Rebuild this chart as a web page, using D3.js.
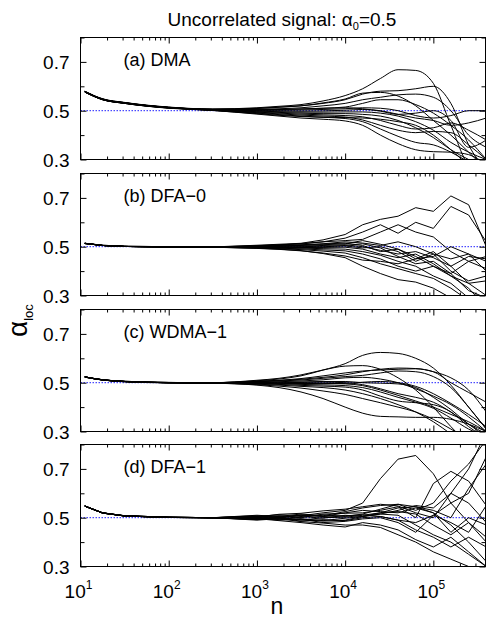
<!DOCTYPE html>
<html>
<head>
  <meta charset="utf-8">
  <title>Local scaling exponent, uncorrelated signal</title>
  <script src="https://d3js.org/d3.v7.min.js"></script>
  <style>
    body {
      margin: 0;
      background-color: white;
    }

    text {
      font-family: 'Liberation Sans', Arial, sans-serif;
      fill: black;
    }

    .frame {
      fill: none;
      stroke: black;
      stroke-width: 1;
    }

    .curve {
      fill: none;
      stroke: black;
      stroke-width: 1;
    }

    .ref-line {
      stroke: #1f1fff;
      stroke-width: 1;
      stroke-dasharray: 1.5, 1.5;
    }

    .tick line {
      stroke: black;
    }
  </style>
</head>

<body>
  <svg id="chart"></svg>

  <script>
    // window sizes n (log spaced)
    const nValues = [11.2, 17.8, 31.6, 100, 316, 1000, 1780, 3160, 5620, 10000, 15800, 25100, 39800, 63100, 100000, 158000, 251000, 398000];

    // (a) DMA
    const dmaCurves = [
      [0.580, 0.549, 0.534, 0.515, 0.507, 0.512, 0.518, 0.525, 0.540, 0.562, 0.590, 0.632, 0.668, 0.665, 0.612, 0.440, 0.280, 0.250],
      [0.578, 0.548, 0.533, 0.514, 0.506, 0.510, 0.515, 0.520, 0.530, 0.545, 0.568, 0.580, 0.582, 0.590, 0.600, 0.530, 0.360, 0.250],
      [0.579, 0.547, 0.533, 0.513, 0.506, 0.509, 0.514, 0.520, 0.532, 0.548, 0.572, 0.575, 0.560, 0.520, 0.460, 0.400, 0.330, 0.260],
      [0.577, 0.547, 0.532, 0.513, 0.505, 0.506, 0.508, 0.512, 0.520, 0.530, 0.545, 0.555, 0.565, 0.568, 0.555, 0.500, 0.400, 0.350],
      [0.578, 0.548, 0.533, 0.514, 0.505, 0.504, 0.505, 0.507, 0.510, 0.515, 0.530, 0.545, 0.545, 0.525, 0.490, 0.440, 0.380, 0.300],
      [0.576, 0.546, 0.531, 0.512, 0.504, 0.502, 0.502, 0.503, 0.505, 0.508, 0.512, 0.510, 0.500, 0.480, 0.470, 0.480, 0.500, 0.500],
      [0.578, 0.547, 0.532, 0.513, 0.504, 0.500, 0.499, 0.498, 0.499, 0.502, 0.505, 0.500, 0.485, 0.470, 0.460, 0.440, 0.450, 0.470],
      [0.577, 0.546, 0.531, 0.512, 0.503, 0.498, 0.496, 0.494, 0.494, 0.495, 0.495, 0.490, 0.478, 0.455, 0.420, 0.370, 0.330, 0.300],
      [0.579, 0.547, 0.532, 0.513, 0.503, 0.496, 0.493, 0.490, 0.488, 0.488, 0.485, 0.478, 0.460, 0.430, 0.390, 0.340, 0.300, 0.270],
      [0.576, 0.545, 0.530, 0.511, 0.503, 0.494, 0.490, 0.486, 0.483, 0.480, 0.475, 0.460, 0.440, 0.425, 0.430, 0.450, 0.420, 0.380],
      [0.578, 0.546, 0.531, 0.512, 0.502, 0.492, 0.487, 0.482, 0.478, 0.474, 0.462, 0.440, 0.420, 0.410, 0.415, 0.410, 0.360, 0.300],
      [0.577, 0.545, 0.530, 0.511, 0.502, 0.490, 0.484, 0.478, 0.473, 0.468, 0.455, 0.425, 0.395, 0.370, 0.360, 0.330, 0.290, 0.250],
      [0.579, 0.546, 0.531, 0.512, 0.501, 0.488, 0.481, 0.476, 0.473, 0.472, 0.470, 0.465, 0.455, 0.440, 0.400, 0.340, 0.280, 0.260],
      [0.576, 0.545, 0.530, 0.510, 0.501, 0.486, 0.478, 0.470, 0.465, 0.458, 0.440, 0.400, 0.365, 0.340, 0.332, 0.330, 0.320, 0.280],
      [0.578, 0.547, 0.532, 0.513, 0.505, 0.503, 0.505, 0.507, 0.510, 0.512, 0.508, 0.498, 0.485, 0.490, 0.500, 0.460, 0.350, 0.380]
    ];

    // (b) DFA-0
    const dfa0Curves = [
      [0.514, 0.506, 0.502, 0.500, 0.499, 0.506, 0.510, 0.514, 0.528, 0.550, 0.590, 0.612, 0.625, 0.660, 0.645, 0.708, 0.672, 0.500],
      [0.513, 0.505, 0.501, 0.500, 0.499, 0.504, 0.508, 0.511, 0.520, 0.535, 0.560, 0.590, 0.555, 0.600, 0.575, 0.665, 0.630, 0.520],
      [0.514, 0.506, 0.502, 0.500, 0.499, 0.503, 0.507, 0.513, 0.520, 0.525, 0.530, 0.560, 0.590, 0.560, 0.540, 0.480, 0.440, 0.410],
      [0.513, 0.505, 0.501, 0.499, 0.498, 0.502, 0.505, 0.508, 0.512, 0.520, 0.515, 0.505, 0.520, 0.500, 0.470, 0.450, 0.470, 0.440],
      [0.514, 0.505, 0.501, 0.499, 0.498, 0.501, 0.503, 0.505, 0.508, 0.512, 0.525, 0.510, 0.490, 0.460, 0.420, 0.380, 0.350, 0.300],
      [0.513, 0.505, 0.501, 0.499, 0.498, 0.500, 0.501, 0.502, 0.505, 0.508, 0.500, 0.485, 0.470, 0.480, 0.455, 0.420, 0.460, 0.450],
      [0.514, 0.505, 0.501, 0.499, 0.498, 0.499, 0.499, 0.500, 0.502, 0.503, 0.495, 0.500, 0.480, 0.440, 0.470, 0.400, 0.360, 0.380],
      [0.513, 0.505, 0.501, 0.499, 0.498, 0.498, 0.497, 0.497, 0.497, 0.498, 0.490, 0.470, 0.455, 0.470, 0.430, 0.380, 0.330, 0.250],
      [0.514, 0.505, 0.501, 0.499, 0.498, 0.497, 0.495, 0.494, 0.492, 0.490, 0.480, 0.465, 0.440, 0.420, 0.380, 0.350, 0.290, 0.270],
      [0.513, 0.505, 0.501, 0.499, 0.498, 0.496, 0.494, 0.491, 0.487, 0.483, 0.470, 0.450, 0.420, 0.400, 0.420, 0.390, 0.440, 0.460],
      [0.514, 0.505, 0.501, 0.499, 0.498, 0.495, 0.492, 0.488, 0.482, 0.474, 0.455, 0.430, 0.410, 0.390, 0.370, 0.330, 0.280, 0.260],
      [0.513, 0.505, 0.501, 0.499, 0.498, 0.494, 0.490, 0.484, 0.472, 0.455, 0.420, 0.390, 0.365, 0.355, 0.330, 0.290, 0.280, 0.300],
      [0.514, 0.505, 0.501, 0.499, 0.498, 0.493, 0.489, 0.483, 0.474, 0.462, 0.445, 0.440, 0.430, 0.450, 0.480, 0.420, 0.350, 0.360],
      [0.513, 0.505, 0.501, 0.499, 0.498, 0.501, 0.503, 0.506, 0.511, 0.515, 0.505, 0.480, 0.490, 0.450, 0.460, 0.500, 0.470, 0.400],
      [0.514, 0.505, 0.501, 0.499, 0.498, 0.498, 0.496, 0.496, 0.499, 0.505, 0.512, 0.495, 0.460, 0.430, 0.440, 0.390, 0.320, 0.290]
    ];

    // (c) WDMA-1
    const wdmaCurves = [
      [0.524, 0.512, 0.506, 0.501, 0.500, 0.508, 0.515, 0.528, 0.552, 0.578, 0.612, 0.624, 0.620, 0.600, 0.560, 0.490, 0.400, 0.310],
      [0.523, 0.512, 0.506, 0.501, 0.500, 0.510, 0.518, 0.532, 0.552, 0.568, 0.570, 0.555, 0.520, 0.470, 0.400, 0.320, 0.250, 0.200],
      [0.524, 0.512, 0.505, 0.501, 0.500, 0.506, 0.510, 0.517, 0.528, 0.540, 0.548, 0.552, 0.555, 0.557, 0.545, 0.500, 0.460, 0.420],
      [0.523, 0.511, 0.505, 0.500, 0.499, 0.504, 0.507, 0.511, 0.518, 0.525, 0.530, 0.540, 0.548, 0.545, 0.525, 0.480, 0.400, 0.310],
      [0.524, 0.512, 0.505, 0.500, 0.499, 0.502, 0.504, 0.507, 0.512, 0.520, 0.522, 0.515, 0.500, 0.475, 0.445, 0.410, 0.360, 0.300],
      [0.523, 0.511, 0.505, 0.500, 0.499, 0.501, 0.502, 0.503, 0.505, 0.505, 0.500, 0.498, 0.495, 0.480, 0.440, 0.390, 0.330, 0.280],
      [0.524, 0.512, 0.505, 0.500, 0.499, 0.500, 0.500, 0.501, 0.502, 0.500, 0.492, 0.475, 0.455, 0.440, 0.420, 0.380, 0.330, 0.290],
      [0.523, 0.511, 0.505, 0.500, 0.499, 0.498, 0.497, 0.497, 0.497, 0.495, 0.488, 0.470, 0.448, 0.425, 0.400, 0.370, 0.340, 0.300],
      [0.524, 0.512, 0.505, 0.500, 0.499, 0.497, 0.495, 0.493, 0.491, 0.488, 0.480, 0.462, 0.440, 0.420, 0.395, 0.355, 0.310, 0.280],
      [0.523, 0.511, 0.505, 0.500, 0.499, 0.496, 0.493, 0.489, 0.486, 0.482, 0.470, 0.445, 0.425, 0.418, 0.410, 0.380, 0.320, 0.270],
      [0.524, 0.512, 0.505, 0.500, 0.498, 0.494, 0.490, 0.485, 0.480, 0.470, 0.455, 0.435, 0.410, 0.380, 0.340, 0.290, 0.240, 0.200],
      [0.523, 0.511, 0.504, 0.500, 0.498, 0.492, 0.486, 0.478, 0.466, 0.452, 0.435, 0.418, 0.400, 0.380, 0.350, 0.310, 0.270, 0.240],
      [0.524, 0.511, 0.504, 0.499, 0.498, 0.490, 0.480, 0.462, 0.435, 0.400, 0.375, 0.362, 0.360, 0.358, 0.358, 0.350, 0.330, 0.300],
      [0.523, 0.511, 0.504, 0.500, 0.498, 0.499, 0.498, 0.497, 0.496, 0.497, 0.502, 0.505, 0.500, 0.485, 0.455, 0.415, 0.370, 0.320],
      [0.524, 0.512, 0.505, 0.501, 0.500, 0.505, 0.509, 0.514, 0.522, 0.532, 0.545, 0.555, 0.560, 0.558, 0.545, 0.520, 0.470, 0.380]
    ];

    // (d) DFA-1
    const dfa1Curves = [
      [0.548, 0.520, 0.508, 0.502, 0.500, 0.505, 0.512, 0.508, 0.520, 0.530, 0.560, 0.660, 0.740, 0.755, 0.680, 0.560, 0.480, 0.400],
      [0.547, 0.519, 0.508, 0.502, 0.500, 0.510, 0.505, 0.515, 0.508, 0.525, 0.540, 0.550, 0.555, 0.530, 0.560, 0.650, 0.720, 0.820],
      [0.548, 0.520, 0.507, 0.502, 0.500, 0.503, 0.514, 0.518, 0.528, 0.535, 0.545, 0.555, 0.548, 0.520, 0.500, 0.600, 0.700, 0.850],
      [0.547, 0.519, 0.507, 0.501, 0.500, 0.497, 0.506, 0.500, 0.515, 0.518, 0.520, 0.530, 0.545, 0.500, 0.640, 0.690, 0.650, 0.550],
      [0.548, 0.520, 0.508, 0.502, 0.500, 0.508, 0.500, 0.510, 0.505, 0.520, 0.530, 0.525, 0.520, 0.540, 0.520, 0.440, 0.500, 0.470],
      [0.547, 0.519, 0.507, 0.501, 0.500, 0.500, 0.494, 0.505, 0.498, 0.510, 0.505, 0.515, 0.530, 0.550, 0.540, 0.600, 0.560, 0.480],
      [0.548, 0.520, 0.508, 0.502, 0.500, 0.494, 0.502, 0.490, 0.500, 0.502, 0.510, 0.520, 0.525, 0.515, 0.470, 0.430, 0.480, 0.420],
      [0.547, 0.519, 0.507, 0.501, 0.500, 0.502, 0.492, 0.496, 0.488, 0.498, 0.505, 0.515, 0.510, 0.470, 0.430, 0.400, 0.350, 0.300],
      [0.548, 0.520, 0.507, 0.502, 0.500, 0.492, 0.498, 0.486, 0.492, 0.488, 0.500, 0.505, 0.490, 0.450, 0.420, 0.380, 0.420, 0.380],
      [0.547, 0.519, 0.507, 0.501, 0.500, 0.498, 0.490, 0.494, 0.480, 0.485, 0.495, 0.500, 0.480, 0.440, 0.510, 0.480, 0.440, 0.550],
      [0.548, 0.519, 0.507, 0.501, 0.500, 0.490, 0.496, 0.484, 0.478, 0.470, 0.470, 0.460, 0.430, 0.400, 0.360, 0.330, 0.300, 0.280],
      [0.547, 0.519, 0.507, 0.501, 0.499, 0.496, 0.488, 0.480, 0.470, 0.462, 0.480, 0.470, 0.450, 0.410, 0.380, 0.420, 0.360, 0.300],
      [0.548, 0.520, 0.507, 0.501, 0.499, 0.493, 0.500, 0.492, 0.486, 0.490, 0.505, 0.520, 0.540, 0.545, 0.530, 0.500, 0.620, 0.720],
      [0.547, 0.519, 0.507, 0.501, 0.500, 0.506, 0.498, 0.512, 0.505, 0.508, 0.512, 0.505, 0.490, 0.480, 0.510, 0.560, 0.600, 0.750],
      [0.548, 0.520, 0.508, 0.502, 0.500, 0.500, 0.508, 0.502, 0.512, 0.505, 0.515, 0.535, 0.555, 0.545, 0.520, 0.470, 0.400, 0.320]
    ];

    const panelLabels = ["(a) DMA", "(b) DFA\u22120", "(c) WDMA\u22121", "(d) DFA\u22121"];
    const yMajorTicks = [0.3, 0.5, 0.7];
    const yMinorTicks = [0.4, 0.6, 0.8];
    const xDecades = [1, 2, 3, 4, 5];
    const alpha0 = 0.5;

    var width = 487;
    var height = 619;
    var left = 80.5, right = 485.5;
    var panelH = 122;

    var svg = d3.select("#chart").attr("width", width).attr("height", height);

    var x = d3.scaleLog().domain([10, 3.9e5]).range([left, right]);

    // major (decades) and minor (2..9) x ticks
    var xAll = x.ticks();
    var xMajor = xAll.filter(v => Math.abs(Math.log10(v) - Math.round(Math.log10(v))) < 1e-9);
    var xMinor = xAll.filter(v => !xMajor.includes(v));

    var panels = [
      { curves: dmaCurves, smooth: true },
      { curves: dfa0Curves, smooth: false },
      { curves: wdmaCurves, smooth: true },
      { curves: dfa1Curves, smooth: false }
    ];

    panels.forEach((p, i) => {
      var top = Math.round(37 + i * 135.8) + 0.5;
      var y = d3.scaleLinear().domain([0.3, 0.8]).range([top + panelH, top]);
      var g = svg.append("g");

      svg.append("clipPath").attr("id", "clip" + i)
        .append("rect")
        .attr("x", left).attr("y", top)
        .attr("width", right - left).attr("height", panelH);

      // reference line alpha0
      g.append("line")
        .attr("class", "ref-line")
        .attr("x1", left).attr("x2", right)
        .attr("y1", y(alpha0)).attr("y2", y(alpha0));

      var line = d3.line()
        .x((d, j) => x(nValues[j]))
        .y(d => y(d))
        .curve(p.smooth ? d3.curveMonotoneX : d3.curveLinear);

      g.append("g")
        .attr("clip-path", "url(#clip" + i + ")")
        .selectAll("path")
        .data(p.curves)
        .enter().append("path")
        .attr("class", "curve")
        .attr("d", line);

      // ticks on all four sides, pointing inward
      var addAxis = (axis, tx, ty) => {
        var a = g.append("g").attr("transform", `translate(${tx},${ty})`).call(axis);
        a.select(".domain").remove();
        return a;
      };
      addAxis(d3.axisBottom(x).tickValues(xMajor).tickSize(-6).tickFormat(""), 0, top + panelH);
      addAxis(d3.axisBottom(x).tickValues(xMinor).tickSize(-3).tickFormat(""), 0, top + panelH);
      addAxis(d3.axisTop(x).tickValues(xMajor).tickSize(-6).tickFormat(""), 0, top);
      addAxis(d3.axisTop(x).tickValues(xMinor).tickSize(-3).tickFormat(""), 0, top);

      var yl = addAxis(d3.axisLeft(y).tickValues(yMajorTicks).tickSize(-6).tickPadding(11).tickFormat(d3.format(".1f")), left, 0);
      yl.selectAll("text")
        .attr("font-size", 19)
        .attr("font-family", "'Liberation Sans', Arial, sans-serif")
        .attr("dy", "0.36em");
      addAxis(d3.axisLeft(y).tickValues(yMinorTicks).tickSize(-4).tickFormat(""), left, 0);
      addAxis(d3.axisRight(y).tickValues(yMajorTicks).tickSize(-6).tickFormat(""), right, 0);
      addAxis(d3.axisRight(y).tickValues(yMinorTicks).tickSize(-4).tickFormat(""), right, 0);

      g.append("rect")
        .attr("class", "frame")
        .attr("x", left).attr("y", top)
        .attr("width", right - left).attr("height", panelH);

      g.append("text")
        .attr("x", left + 43)
        .attr("y", top + 28)
        .attr("font-size", 18)
        .text(panelLabels[i]);

      // x tick labels only under the last panel
      if (i === panels.length - 1) {
        var lab = g.selectAll(".xlab")
          .data(xDecades)
          .enter().append("text")
          .attr("class", "xlab")
          .attr("x", d => x(Math.pow(10, d)) - 2)
          .attr("y", top + panelH + 31)
          .attr("text-anchor", "middle")
          .attr("font-size", 19);
        lab.append("tspan").text("10");
        lab.append("tspan").attr("font-size", 12).attr("dy", -9).text(d => d);

        g.append("text")
          .attr("x", 277)
          .attr("y", top + panelH + 47)
          .attr("text-anchor", "middle")
          .attr("font-size", 23)
          .text("n");
      }
    });

    // title
    var title = svg.append("text")
      .attr("x", 282)
      .attr("y", 26)
      .attr("text-anchor", "middle")
      .attr("font-size", 19);
    title.append("tspan").text("Uncorrelated signal: \u03b1");
    title.append("tspan").attr("font-size", 11).attr("dy", 4).text("0");
    title.append("tspan").attr("dy", -4).text("=0.5");

    // y axis label alpha_loc
    var ylab = svg.append("text")
      .attr("transform", "translate(27,337) rotate(-90)");
    ylab.append("tspan").attr("font-size", 28).text("\u03b1");
    ylab.append("tspan").attr("font-size", 13).attr("dy", 6).text("loc");
  </script>
</body>

</html>
